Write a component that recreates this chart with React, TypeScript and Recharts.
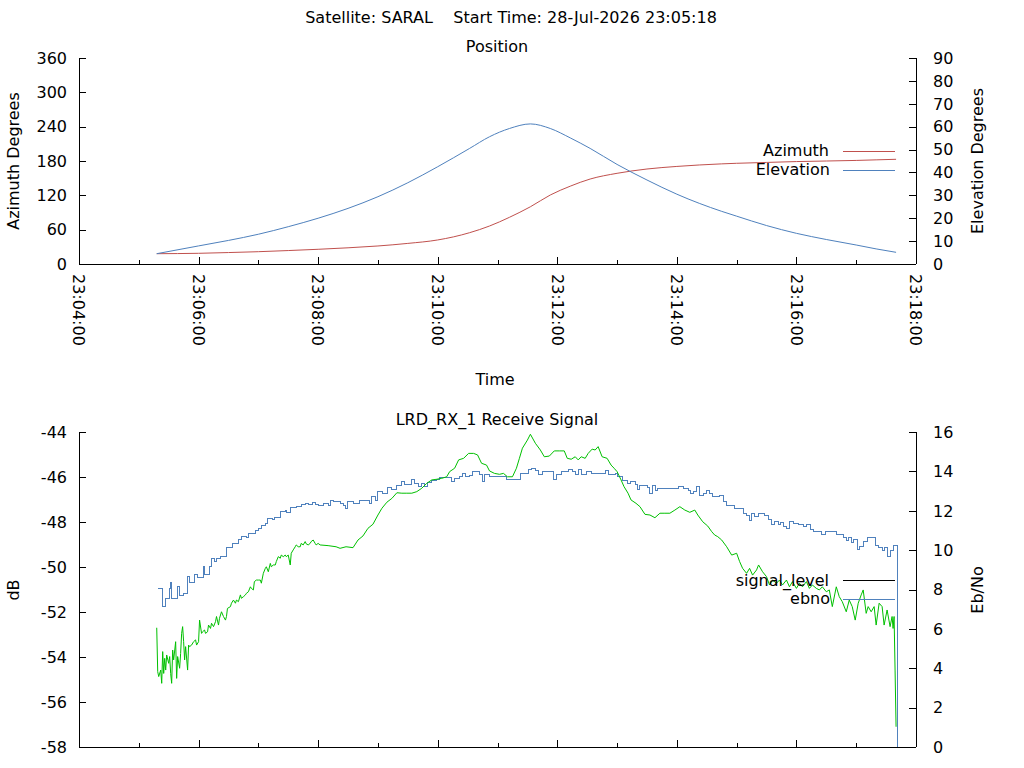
import React from 'react';
import { LineChart, Line, XAxis, YAxis } from 'recharts';

const FONT = "'DejaVu Sans', sans-serif";
const RED = '#c0504d';
const BLUE = '#4f81bd';
const GREEN = '#00c000';

// ---- Position panel (seconds after 23:04:00) ----
const posTime = [78, 120, 150, 180, 210, 240, 270, 300, 330, 360, 392, 412, 432, 453, 473, 493, 513, 540, 570, 600, 645, 660, 690, 720, 750, 780, 800, 820];
const azimuth = [18, 18.7, 20, 21.5, 23.5, 25.7, 28.3, 31.5, 36, 42, 54.7, 66.4, 81.6, 100, 120.6, 136, 148.5, 158.5, 166, 170.5, 175, 176, 177.5, 179, 180, 181, 182, 183];
const elevation = [4.5, 7.9, 10.3, 13, 16.3, 20, 24.3, 29.4, 35.5, 42.5, 50.5, 55.6, 59.2, 61.2, 59.2, 55.1, 50.5, 43.5, 36.7, 30.5, 23.0, 20.9, 16.8, 13.4, 10.7, 8.3, 6.6, 5.1];

// ---- Receive signal panel ----
const sigTime = [
  78, 79, 80, 82, 83, 84, 85, 86, 87, 88,
  90, 91, 92, 93, 94, 95, 97, 98, 99, 101,
  102, 103, 104, 105, 106, 107, 109, 110, 111, 113,
  115, 117, 118, 120, 121, 123, 124, 126, 127, 129,
  130, 132, 133, 135, 137, 138, 140, 141, 143, 145,
  147, 148, 149, 152, 153, 155, 157, 158, 160, 162,
  163, 165, 167, 168, 170, 172, 173, 175, 176, 178,
  180, 182, 183, 185, 187, 188, 190, 192, 193, 195,
  197, 198, 200, 202, 203, 205, 207, 208, 210, 212,
  213, 215, 217, 218, 220, 222, 223, 225, 227, 228,
  230, 232, 233, 235, 237, 238, 240, 242, 250, 258,
  262, 268, 275, 280, 285, 290, 295, 300, 304, 309,
  314, 319, 324, 329, 334, 339, 344, 349, 354, 359,
  364, 369, 372, 377, 381, 386, 391, 396, 400, 404,
  409, 412, 417, 422, 426, 430, 435, 439, 442, 445,
  450, 453, 458, 463, 467, 472, 477, 482, 487, 490,
  494, 498, 501, 504, 508, 511, 515, 518, 521, 525,
  530, 534, 537, 540, 544, 547, 551, 554, 559, 563,
  568, 573, 578, 583, 588, 593, 598, 603, 608, 613,
  618, 621, 626, 631, 635, 638, 641, 645, 650, 655,
  660, 663, 666, 670, 673, 676, 680, 682, 686, 690,
  693, 696, 700, 703, 706, 710, 713, 716, 720, 723,
  726, 730, 733, 736, 740, 743, 746, 750, 753, 756,
  760, 763, 766, 770, 773, 776, 779, 782, 785, 787,
  790, 792, 795, 798, 800, 803, 806, 808, 811, 814,
  816, 817, 818, 819, 820,
];
const sigLevel = [
  -52.7, -54.65, -54.87, -54.58, -55.17, -53.76, -54.73, -54.06, -54.58, -53.91,
  -54.28, -53.98, -54.73, -55.17, -53.69, -54.13, -53.32, -54.95, -53.98, -54.5,
  -53.84, -52.95, -52.65, -53.32, -54.13, -53.54, -54.58, -53.47, -53.54, -53.47,
  -53.32, -53.24, -53.47, -53.32, -52.36, -52.95, -52.88, -52.8, -52.95, -52.88,
  -52.58, -52.73, -52.5, -52.65, -52.43, -52.2, -52.58, -52.28, -51.99, -52.2,
  -52.36, -52.2, -51.84, -51.76, -51.61, -51.47, -51.61, -51.47, -51.54, -51.24,
  -51.39, -51.32, -51.24, -51.17, -51.1, -50.88, -50.95, -51.02, -50.65, -50.58,
  -50.58, -50.58, -50.72, -50.28, -50.06, -49.99, -50.21, -49.84, -49.99, -49.91,
  -49.91, -49.76, -49.54, -49.61, -49.47, -49.54, -49.47, -49.54, -49.47, -49.91,
  -49.39, -49.24, -49.1, -49.02, -49.1, -49.1, -48.95, -49.02, -48.87, -48.97,
  -49.02, -48.95, -48.87, -48.8, -48.95, -49.02, -48.95, -49.02, -49.05, -49.1,
  -49.17, -49.1, -49.14, -48.8, -48.62, -48.28, -48.1, -47.69, -47.39, -47.12,
  -46.95, -46.7, -46.72, -46.72, -46.72, -46.65, -46.5, -46.28, -46.13, -46.1,
  -46.06, -45.99, -45.76, -45.61, -45.24, -45.17, -44.95, -44.95, -45.02, -45.39,
  -45.47, -45.73, -45.84, -45.88, -45.84, -45.99, -45.99, -45.61, -45.17, -44.72,
  -44.36, -44.1, -44.5, -44.8, -45.1, -45.07, -44.84, -44.84, -44.84, -45.17,
  -45.21, -45.1, -45.24, -45.1, -45.17, -44.95, -44.76, -44.8, -44.65, -45.1,
  -45.17, -45.47, -45.61, -45.76, -46.13, -46.43, -46.72, -47.02, -47.17, -47.32,
  -47.66, -47.69, -47.81, -47.61, -47.61, -47.61, -47.47, -47.32, -47.47, -47.57,
  -47.47, -47.69, -47.99, -48.18, -48.43, -48.58, -48.65, -48.8, -49.1, -49.47,
  -49.39, -49.76, -50.06, -50.28, -50.06, -50.36, -50.13, -49.91, -50.21, -50.43,
  -50.8, -50.58, -50.72, -50.58, -50.8, -50.58, -50.88, -50.65, -50.95, -50.72,
  -50.88, -50.65, -50.95, -50.8, -50.95, -51.02, -50.88, -51.1, -51.02, -51.76,
  -50.88, -51.32, -51.54, -51.99, -51.47, -51.76, -52.36, -51.61, -51.24, -51.02,
  -52.06, -51.76, -51.99, -51.76, -52.58, -51.61, -51.76, -52.58, -51.91, -52.65,
  -52.2, -52.73, -52.2, -54.58, -57.1,
];

const ebnoTime = [
  79, 83, 84, 86, 87, 91, 92, 93, 98, 99,
  101, 105, 109, 111, 116, 119, 125, 126, 131, 133,
  136, 138, 142, 148, 154, 160, 163, 168, 170, 177,
  180, 183, 187, 189, 194, 196, 202, 207, 208, 212,
  218, 223, 227, 230, 234, 237, 240, 245, 250, 252,
  255, 262, 265, 267, 269, 275, 282, 292, 294, 298,
  300, 305, 310, 314, 319, 324, 327, 334, 337, 341,
  344, 347, 350, 354, 359, 362, 374, 377, 382, 385,
  388, 392, 395, 402, 405, 407, 412, 429, 443, 451,
  454, 458, 461, 465, 475, 476, 479, 484, 491, 495,
  498, 501, 504, 509, 514, 528, 531, 538, 540, 545,
  550, 553, 558, 560, 563, 571, 573, 576, 579, 581,
  602, 607, 612, 614, 617, 620, 623, 627, 630, 633,
  636, 643, 647, 650, 658, 667, 670, 673, 675, 678,
  682, 688, 692, 695, 698, 702, 704, 707, 710, 713,
  717, 722, 727, 730, 734, 737, 745, 749, 760, 764,
  767, 770, 772, 775, 777, 781, 783, 787, 791, 799,
  802, 806, 808, 811, 814, 817, 820, 821,
];
const ebnoValue = [
  8.06, 8.06, 7.16, 7.16, 7.55, 8.06, 8.35, 7.55, 7.55, 8.14,
  7.67, 7.81, 8.65, 8.35, 8.74, 8.62, 9.16, 8.77, 9.16, 9.58,
  9.41, 9.58, 9.67, 10.14, 10.34, 10.55, 10.68, 10.63, 10.85, 10.99,
  11.11, 11.23, 11.36, 11.62, 11.57, 11.67, 11.95, 12.0, 11.9, 12.16,
  12.24, 12.34, 12.38, 12.33, 12.41, 12.34, 12.29, 12.38, 12.29, 12.51,
  12.46, 12.38, 12.25, 12.09, 12.46, 12.38, 12.5, 12.38, 12.71, 12.5,
  12.97, 12.89, 13.17, 13.09, 13.26, 13.48, 13.31, 13.6, 13.39, 13.22,
  13.39, 13.22, 13.44, 13.56, 13.61, 13.68, 13.51, 13.65, 13.73, 13.9,
  13.73, 13.78, 13.98, 13.82, 13.51, 13.82, 13.73, 13.61, 13.9, 14.07,
  14.16, 14.02, 13.82, 13.98, 13.98, 13.61, 13.82, 13.98, 14.07, 13.98,
  13.82, 14.07, 13.82, 13.98, 13.9, 14.02, 13.82, 13.9, 13.73, 13.56,
  13.39, 13.48, 13.31, 13.1, 13.27, 13.17, 12.89, 13.27, 13.05, 13.14,
  13.21, 13.14, 13.05, 12.89, 13.0, 13.22, 12.8, 12.89, 13.05, 12.89,
  12.71, 12.8, 12.46, 12.29, 12.12, 11.87, 11.78, 11.53, 11.87, 11.73,
  11.87, 11.78, 11.57, 11.28, 11.44, 11.28, 11.39, 11.19, 11.11, 11.44,
  11.36, 11.28, 11.19, 11.28, 11.06, 10.97, 10.8, 10.94, 10.8, 10.77,
  10.65, 10.51, 10.65, 10.38, 10.55, 10.04, 10.17, 10.43, 10.65, 10.26,
  10.14, 10.0, 10.14, 9.7, 10.0, 10.21, 10.26, 0,
];

// ---- Ticks ----
const timeTicks = [0, 60, 120, 180, 240, 300, 360, 420, 480, 540, 600, 660, 720, 780, 840];
const timeMajor = [0, 120, 240, 360, 480, 600, 720, 840];
const timeLabels = ['23:04:00', '23:06:00', '23:08:00', '23:10:00', '23:12:00', '23:14:00', '23:16:00', '23:18:00'];
const azTicks = [0, 60, 120, 180, 240, 300, 360];
const elTicks = [0, 10, 20, 30, 40, 50, 60, 70, 80, 90];
const dbTicks = [-58, -56, -54, -52, -50, -48, -46, -44];
const ebTicks = [0, 2, 4, 6, 8, 10, 12, 14, 16];

const posData = posTime.map((t, i) => ({ t, az: azimuth[i], el: elevation[i] }));
const sigData = sigTime.map((t, i) => ({ t, sig: sigLevel[i] }));
const ebnoData = ebnoTime.map((t, i) => ({ t, ebno: ebnoValue[i] }));

const textStyle = { fontFamily: FONT, fontSize: 16, fill: '#000' } as const;

function makeXTick(side: 'bottom' | 'top', withLabels: boolean) {
  return (props: any) => {
    const { x, y, payload } = props;
    const idx = timeMajor.indexOf(payload.value);
    const len = idx >= 0 ? 7 : 4;
    const dir = side === 'bottom' ? -1 : 1;
    const xc = Math.round(x) + 0.5;
    return (
      <g>
        <line x1={xc} x2={xc} y1={y} y2={y + dir * len} stroke="#000" strokeWidth={1} shapeRendering="crispEdges" />
        {withLabels && idx >= 0 && (
          <text
            transform={`translate(${x},${y + 10}) rotate(90)`}
            dy="0.36em"
            textAnchor="start"
            {...textStyle}
          >
            {timeLabels[idx]}
          </text>
        )}
      </g>
    );
  };
}

function makeYTick(side: 'left' | 'right') {
  return (props: any) => {
    const { x, y, payload } = props;
    const dir = side === 'left' ? 1 : -1;
    const yc = Math.round(y) + 0.5;
    return (
      <g>
        <line x1={x} x2={x + dir * 7} y1={yc} y2={yc} stroke="#000" strokeWidth={1} shapeRendering="crispEdges" />
        <text
          x={side === 'left' ? x - 12 : x + 17}
          y={y}
          dy="0.36em"
          textAnchor={side === 'left' ? 'end' : 'start'}
          {...textStyle}
        >
          {String(payload.value)}
        </text>
      </g>
    );
  };
}

const axisLine = { stroke: '#000', strokeWidth: 1, shapeRendering: 'crispEdges' };

function PositionChart() {
  return (
    <LineChart width={1024} height={400} margin={{ top: 58, right: 0, bottom: 0, left: 0 }} data={posData}>
      <XAxis xAxisId="b" dataKey="t" type="number" domain={[0, 840]} ticks={timeTicks} interval={0}
        orientation="bottom" height={136} tickSize={0} tickMargin={0} tickLine={false}
        axisLine={axisLine} tick={makeXTick('bottom', true)} />
      <XAxis xAxisId="top" dataKey="t" type="number" domain={[0, 840]} ticks={timeTicks} interval={0}
        orientation="top" height={0} tickSize={0} tickMargin={0} tickLine={false}
        axisLine={axisLine} tick={makeXTick('top', false)} />
      <YAxis yAxisId="az" orientation="left" width={79} type="number" domain={[0, 360]} ticks={azTicks}
        interval={0} tickSize={0} tickMargin={0} tickLine={false} axisLine={axisLine} tick={makeYTick('left')} />
      <YAxis yAxisId="el" orientation="right" width={108} type="number" domain={[0, 90]} ticks={elTicks}
        interval={0} tickSize={0} tickMargin={0} tickLine={false} axisLine={axisLine} tick={makeYTick('right')} />
      <Line xAxisId="b" yAxisId="az" dataKey="az" type="monotone" stroke={RED} strokeWidth={1}
        dot={false} isAnimationActive={false} />
      <Line xAxisId="b" yAxisId="el" dataKey="el" type="monotone" stroke={BLUE} strokeWidth={1}
        dot={false} isAnimationActive={false} />
    </LineChart>
  );
}

function SignalChart() {
  return (
    <LineChart width={1024} height={368} margin={{ top: 32, right: 0, bottom: 0, left: 0 }}>
      <XAxis xAxisId="b" dataKey="t" type="number" domain={[0, 840]} ticks={timeTicks} interval={0}
        orientation="bottom" height={21} tickSize={0} tickMargin={0} tickLine={false}
        axisLine={axisLine} tick={makeXTick('bottom', false)} />
      <XAxis xAxisId="top" dataKey="t" type="number" domain={[0, 840]} ticks={timeTicks} interval={0}
        orientation="top" height={0} tickSize={0} tickMargin={0} tickLine={false}
        axisLine={axisLine} tick={makeXTick('top', false)} />
      <YAxis yAxisId="db" orientation="left" width={79} type="number" domain={[-58, -44]} ticks={dbTicks}
        interval={0} tickSize={0} tickMargin={0} tickLine={false} axisLine={axisLine} tick={makeYTick('left')} />
      <YAxis yAxisId="eb" orientation="right" width={108} type="number" domain={[0, 16]} ticks={ebTicks}
        interval={0} tickSize={0} tickMargin={0} tickLine={false} axisLine={axisLine} tick={makeYTick('right')} />
      <Line xAxisId="b" yAxisId="eb" data={ebnoData} dataKey="ebno" type="stepAfter" stroke={BLUE}
        strokeWidth={1} dot={false} isAnimationActive={false} shapeRendering="crispEdges" />
      <Line xAxisId="b" yAxisId="db" data={sigData} dataKey="sig" type="linear" stroke={GREEN}
        strokeWidth={1} dot={false} isAnimationActive={false} />
    </LineChart>
  );
}

function Overlay() {
  return (
    <svg width={1024} height={768} style={{ position: 'absolute', left: 0, top: 0, pointerEvents: 'none' }}>
      <text x={511} y={23} textAnchor="middle" style={{ whiteSpace: 'pre' }} {...textStyle}>
        {'Satellite: SARAL    Start Time: 28-Jul-2026 23:05:18'}
      </text>
      <text x={497} y={52} textAnchor="middle" {...textStyle}>Position</text>
      <text x={495} y={385} textAnchor="middle" {...textStyle}>Time</text>
      <text x={497} y={425} textAnchor="middle" {...textStyle}>LRD_RX_1 Receive Signal</text>
      <text transform="translate(19,161) rotate(-90)" textAnchor="middle" {...textStyle}>Azimuth Degrees</text>
      <text transform="translate(983,161) rotate(-90)" textAnchor="middle" {...textStyle}>Elevation Degrees</text>
      <text transform="translate(19,590) rotate(-90)" textAnchor="middle" {...textStyle}>dB</text>
      <text transform="translate(983,590) rotate(-90)" textAnchor="middle" {...textStyle}>Eb/No</text>

      <text x={829} y={156} textAnchor="end" {...textStyle}>Azimuth</text>
      <line x1={843} x2={895} y1={151.5} y2={151.5} stroke={RED} strokeWidth={1} />
      <text x={830} y={175} textAnchor="end" {...textStyle}>Elevation</text>
      <line x1={843} x2={895} y1={170.5} y2={170.5} stroke={BLUE} strokeWidth={1} />

      <text x={829} y={586} textAnchor="end" {...textStyle}>signal_level</text>
      <line x1={843} x2={895} y1={580.5} y2={580.5} stroke="#000" strokeWidth={1} />
      <text x={830} y={604} textAnchor="end" {...textStyle}>ebno</text>
      <line x1={843} x2={895} y1={599.5} y2={599.5} stroke={BLUE} strokeWidth={1} />
    </svg>
  );
}

export default function App() {
  return (
    <div style={{ position: 'absolute', left: 0, top: 0, width: 1024, height: 768, background: '#fff', overflow: 'hidden' }}>
      <div style={{ position: 'absolute', left: 0, top: 0 }}>
        <PositionChart />
      </div>
      <div style={{ position: 'absolute', left: 0, top: 400 }}>
        <SignalChart />
      </div>
      <Overlay />
    </div>
  );
}
